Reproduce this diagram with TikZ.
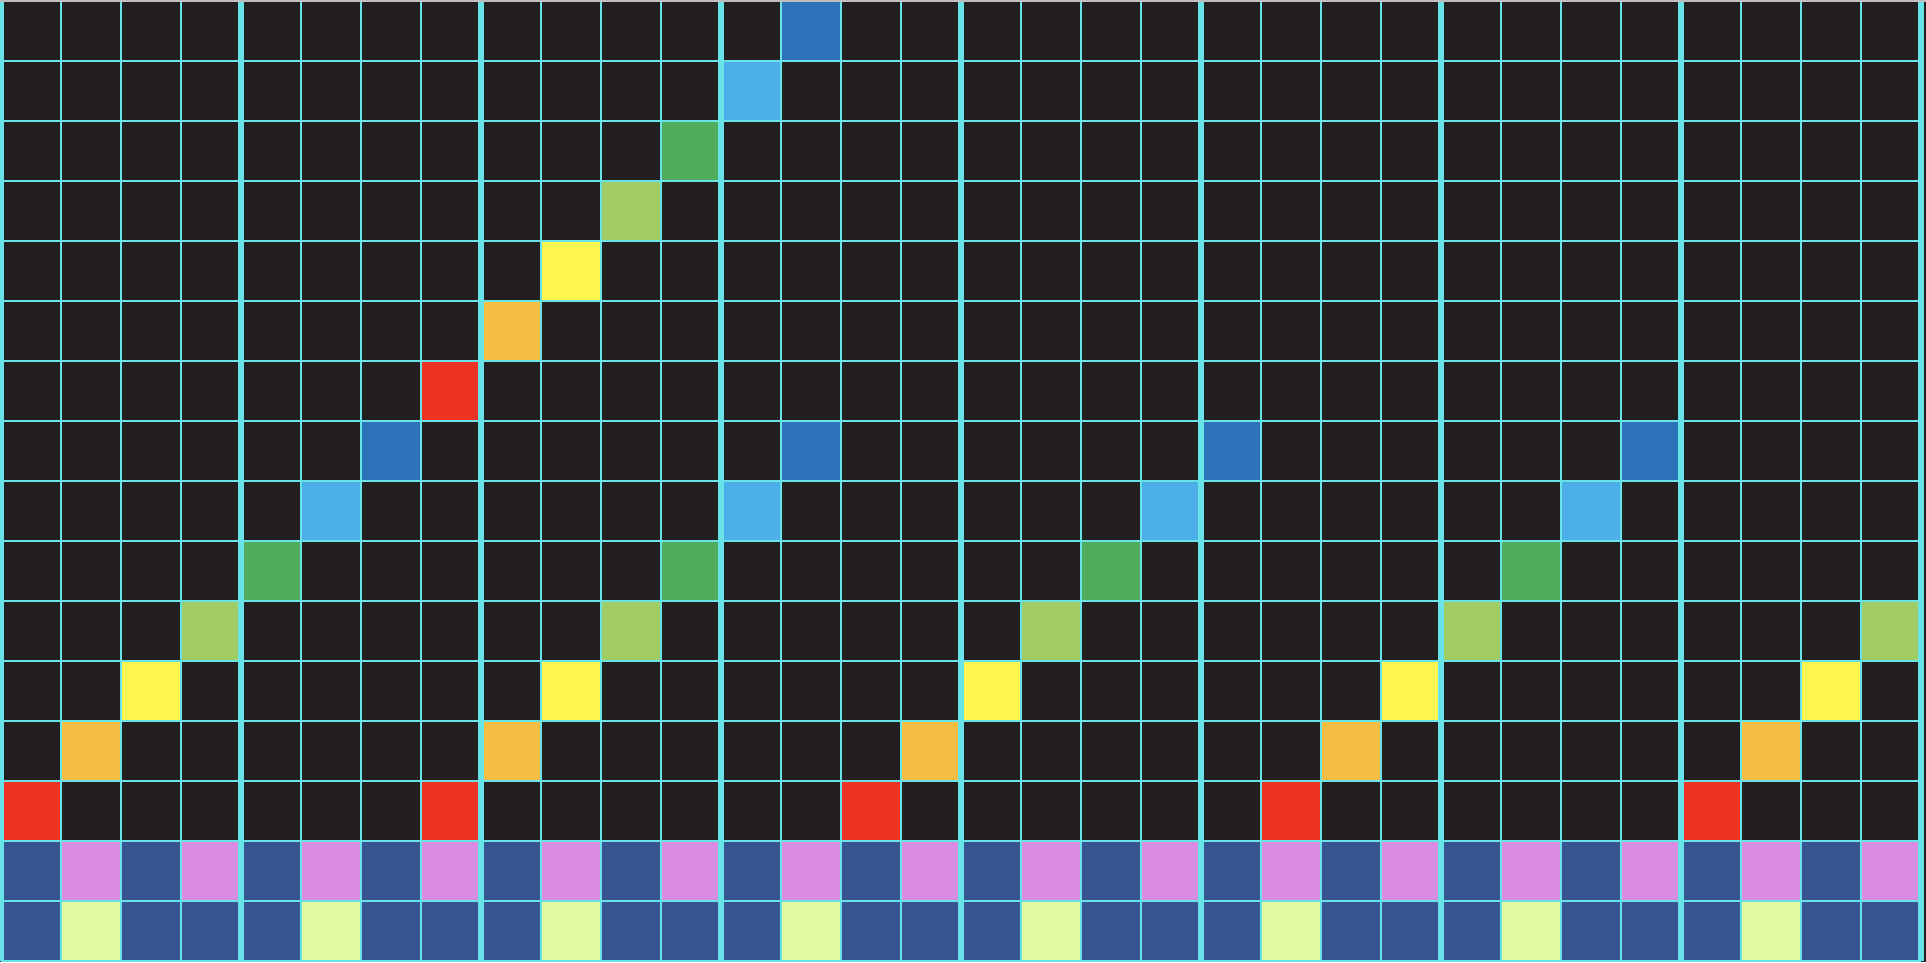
\documentclass[tikz,border=0pt]{standalone}
\definecolor{bg}{RGB}{35,31,32}
\definecolor{gridc}{RGB}{104,228,232}
\definecolor{cred}{RGB}{238,50,36}
\definecolor{corange}{RGB}{246,190,67}
\definecolor{cyellow}{RGB}{255,245,80}
\definecolor{clgreen}{RGB}{161,204,99}
\definecolor{cgreen}{RGB}{80,173,92}
\definecolor{clblue}{RGB}{76,175,232}
\definecolor{cblue}{RGB}{44,115,186}
\definecolor{cdkblue}{RGB}{53,84,144}
\definecolor{cpink}{RGB}{218,140,224}
\definecolor{cpale}{RGB}{224,250,160}
\definecolor{topgrey}{RGB}{190,190,190}
\tikzset{
  thinline/.style={draw=gridc, line width=1.8pt},
  thickline/.style={draw=gridc, line width=6pt},
}
\begin{document}
\begin{tikzpicture}
\useasboundingbox (0,0) rectangle (1926pt,962pt);
\fill[bg] (0,0) rectangle (1926pt,962pt);
\begin{scope}[shift={(0.8pt,961.2pt)}, x=60pt, y=-60pt]
  % bottom two rows
  \foreach \c in {0,...,31} {
    \fill[cdkblue] (\c,14) rectangle ++(1,1);
    \fill[cdkblue] (\c,15) rectangle ++(1,1);
  }
  \foreach \c in {1,3,...,31} { \fill[cpink] (\c,14) rectangle ++(1,1); }
  \foreach \c in {1,5,...,29} { \fill[cpale] (\c,15) rectangle ++(1,1); }
  % diagonals
  \foreach \c/\r/\col in {
    13/0/cblue, 12/1/clblue, 11/2/cgreen, 10/3/clgreen, 9/4/cyellow, 8/5/corange, 7/6/cred,
    6/7/cblue, 13/7/cblue, 20/7/cblue, 27/7/cblue,
    5/8/clblue, 12/8/clblue, 19/8/clblue, 26/8/clblue,
    4/9/cgreen, 11/9/cgreen, 18/9/cgreen, 25/9/cgreen,
    3/10/clgreen, 10/10/clgreen, 17/10/clgreen, 24/10/clgreen, 31/10/clgreen,
    2/11/cyellow, 9/11/cyellow, 16/11/cyellow, 23/11/cyellow, 30/11/cyellow,
    1/12/corange, 8/12/corange, 15/12/corange, 22/12/corange, 29/12/corange,
    0/13/cred, 7/13/cred, 14/13/cred, 21/13/cred, 28/13/cred} {
    \fill[\col] (\c,\r) rectangle ++(1,1);
  }
  % grid
  \foreach \r in {0,...,16} { \draw[thinline] (0,\r) -- (32,\r); }
  \foreach \c in {0,...,32} { \draw[thinline] (\c,0) -- (\c,16); }
  \foreach \g in {0,...,8} { \draw[thickline] (4*\g,0) -- (4*\g,16); }
\end{scope}
\fill[topgrey] (0,960pt) rectangle (1926pt,962pt);
\end{tikzpicture}
\end{document}
